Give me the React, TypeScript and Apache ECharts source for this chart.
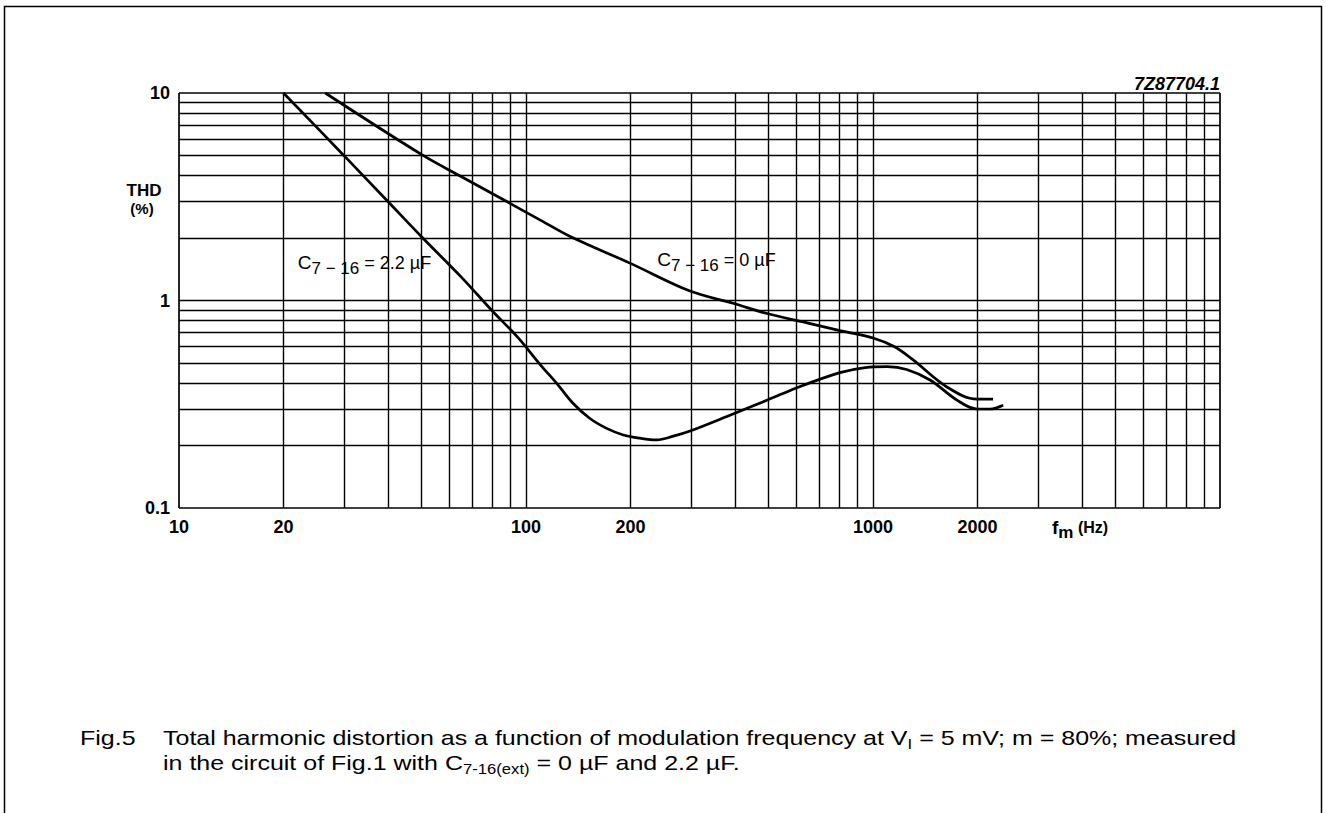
import React, { useEffect, useRef } from "react";
import * as echarts from "echarts";

const FONT = '"Liberation Sans", Arial, Helvetica, sans-serif';

// grid values (decade subdivisions)
const xGridValues = [10, 20, 30, 40, 50, 60, 70, 80, 90, 100, 200, 300, 400, 500, 600, 700, 800, 900, 1000, 2000, 3000, 4000, 5000, 6000, 7000, 8000, 9000, 10000];
const yGridValues = [0.1, 0.2, 0.3, 0.4, 0.5, 0.6, 0.7, 0.8, 0.9, 1, 2, 3, 4, 5, 6, 7, 8, 9, 10];
const xTickLabels = [10, 20, 100, 200, 1000, 2000];
const yTickLabels = [0.1, 1, 10];

// C7-16 = 2.2 uF
const curve22: [number, number][] = [
  [20, 10], [30, 4.96], [40, 3.0], [50, 2.03], [65, 1.3], [80, 0.89], [95, 0.66],
  [110, 0.49], [122.6, 0.399], [136.8, 0.319], [152.9, 0.27], [170.8, 0.242],
  [190.7, 0.225], [213, 0.217], [238, 0.213], [266, 0.222], [297, 0.235], [395, 0.284],
  [500, 0.333], [604, 0.38], [803, 0.449], [950, 0.475], [1100, 0.48], [1250, 0.465],
  [1460, 0.414], [1746, 0.331], [1994, 0.30], [2173, 0.30], [2372, 0.313],
];
// C7-16 = 0 uF
const curve0: [number, number][] = [
  [26.4, 10], [50.5, 5.0], [65, 3.96], [88, 3.0], [110, 2.44],
  [136, 2.01], [200, 1.51], [297, 1.11], [395, 0.97], [495, 0.865], [650, 0.778],
  [803, 0.716], [1000, 0.66], [1150, 0.6], [1300, 0.52], [1633, 0.383], [1994, 0.335],
  [2218, 0.335],
];

const labelTextStyle = { color: "#000", fontFamily: FONT, fontSize: 18, fontWeight: "bold" as const };

export default function App() {
  const ref = useRef<HTMLDivElement>(null);
  useEffect(() => {
    if (!ref.current) return;
    const chart = echarts.init(ref.current, undefined, { renderer: "svg" });
    const gridLine = { color: "#000", width: 1.4, type: "solid" as const };
    const vLines = xGridValues.map((v) => ({
      xAxis: v,
      lineStyle: v === 10 || v === 10000 ? { ...gridLine, width: 1.7 } : gridLine,
      label: xTickLabels.includes(v)
        ? { show: true, position: "start", distance: 10, formatter: String(v), ...labelTextStyle }
        : { show: false },
    }));
    const hLines = yGridValues.map((v) => ({
      yAxis: v,
      lineStyle: v === 0.1 || v === 10 ? { ...gridLine, width: 1.7 } : gridLine,
      label: yTickLabels.includes(v)
        ? { show: true, position: "start", distance: 9, formatter: String(v), ...labelTextStyle }
        : { show: false },
    }));
    const annRich = {
      c: { fontFamily: FONT, fontSize: 19, color: "#000" },
      s: { fontFamily: FONT, fontSize: 17, color: "#000", padding: [11, 0, 0, 0], verticalAlign: "bottom" },
      e: { fontFamily: FONT, fontSize: 18, color: "#000" },
    };
    const capRich = {
      t: { fontFamily: FONT, fontSize: 21, color: "#000" },
      s: { fontFamily: FONT, fontSize: 14, color: "#000", padding: [11, 0, 0, 0], verticalAlign: "bottom" },
    };
    const capScale = 1.19;
    chart.setOption({
      animation: false,
      backgroundColor: "#fff",
      grid: { left: 179, top: 93, width: 1041, height: 415 },
      xAxis: {
        type: "log", logBase: 10, min: 10, max: 10000,
        axisLine: { show: false }, axisTick: { show: false }, axisLabel: { show: false }, splitLine: { show: false },
      },
      yAxis: {
        type: "log", logBase: 10, min: 0.1, max: 10,
        axisLine: { show: false }, axisTick: { show: false }, axisLabel: { show: false }, splitLine: { show: false },
      },
      series: [
        {
          type: "line", name: "C7-16 = 2.2 uF", data: curve22, showSymbol: false, smooth: 0.35,
          lineStyle: { color: "#000", width: 2.7 }, z: 3,
          markLine: { silent: true, symbol: "none", animation: false, data: vLines },
          markPoint: {
            symbol: "rect", symbolSize: 0, silent: true,
            data: [{ coord: [22, 1.52] }],
            label: { show: true, position: "right", distance: 0, formatter: "{c|C}{s|7 − 16}{e| = 2.2 µF}", rich: annRich },
          },
        },
        {
          type: "line", name: "C7-16 = 0 uF", data: curve0, showSymbol: false, smooth: 0.35,
          lineStyle: { color: "#000", width: 2.7 }, z: 3,
          markLine: { silent: true, symbol: "none", animation: false, data: hLines },
          markPoint: {
            symbol: "rect", symbolSize: 0, silent: true,
            data: [{ coord: [239, 1.57] }],
            label: { show: true, position: "right", distance: 0, formatter: "{c|C}{s|7 − 16}{e| = 0 µF}", rich: annRich },
          },
        },
      ],
      graphic: [
        { type: "rect", shape: { x: 4.5, y: 6.5, width: 1317, height: 900 }, style: { fill: "none", stroke: "#000", lineWidth: 1.5 }, silent: true },
        { type: "text", x: 144, y: 190, style: { text: "THD", font: `bold 17px ${FONT}`, fill: "#000", align: "center", verticalAlign: "middle" } },
        { type: "text", x: 142, y: 208, style: { text: "(%)", font: `bold 15px ${FONT}`, fill: "#000", align: "center", verticalAlign: "middle" } },
        {
          type: "text", x: 1052, y: 527,
          style: {
            text: "{a|f}{s|m}{b| (Hz)}", fill: "#000", verticalAlign: "middle",
            rich: {
              a: { fontFamily: FONT, fontSize: 19, fontWeight: "bold" },
              s: { fontFamily: FONT, fontSize: 17, fontWeight: "bold", padding: [11, 0, 0, 0], verticalAlign: "bottom" },
              b: { fontFamily: FONT, fontSize: 16, fontWeight: "bold" },
            },
          },
        },
        { type: "text", x: 1220, y: 84, style: { text: "7Z87704.1", font: `italic bold 18px ${FONT}`, fill: "#000", align: "right", verticalAlign: "middle" } },
        { type: "text", x: 80, y: 738, scaleX: capScale, style: { text: "Fig.5", font: `21px ${FONT}`, fill: "#000", verticalAlign: "middle" } },
        {
          type: "text", x: 163, y: 738, scaleX: capScale,
          style: {
            text: "{t|Total harmonic distortion as a function of modulation frequency at V}{s|I}{t| = 5 mV; m = 80%; measured}",
            fill: "#000", verticalAlign: "middle", rich: capRich,
          },
        },
        {
          type: "text", x: 163, y: 763, scaleX: capScale,
          style: {
            text: "{t|in the circuit of Fig.1 with C}{s|7-16(ext)}{t| = 0 µF and 2.2 µF.}",
            fill: "#000", verticalAlign: "middle", rich: capRich,
          },
        },
      ],
    });
    return () => chart.dispose();
  }, []);
  return <div ref={ref} style={{ position: "fixed", left: 0, top: 0, width: 1326, height: 813, background: "#fff" }} />;
}
